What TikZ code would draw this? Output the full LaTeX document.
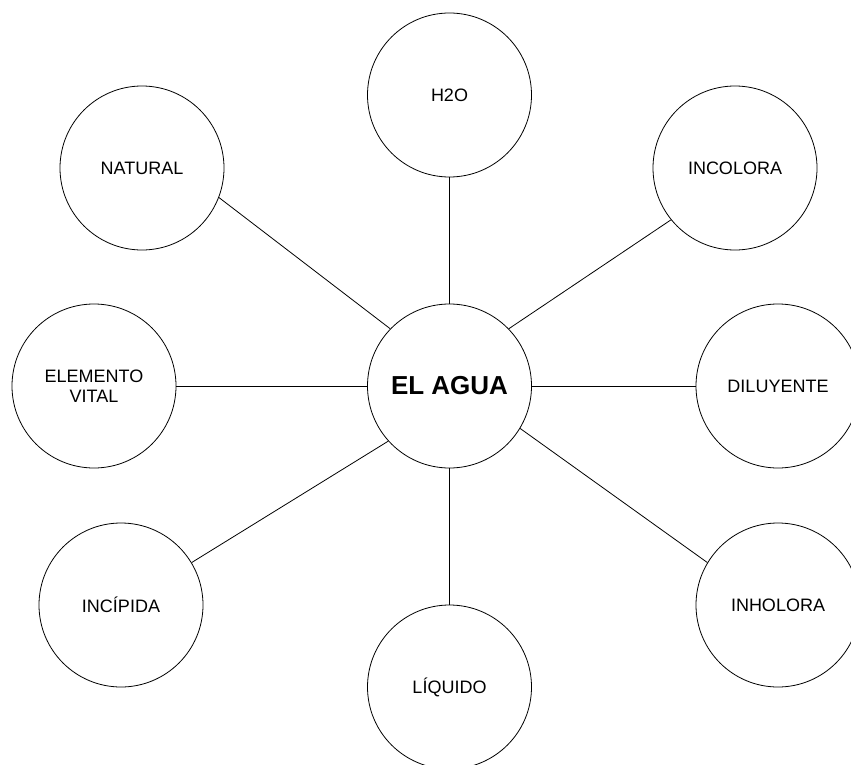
\documentclass[tikz,border=0pt]{standalone}
\usepackage{fontspec}
\setmainfont{Liberation Sans}
\begin{document}
\begin{tikzpicture}[x=1pt,y=-1pt,
  bubble/.style={circle,draw=black,line width=0.8pt,minimum size=164pt,inner sep=0pt,align=center,
    font=\fontsize{18}{20}\selectfont},
  hub/.style={bubble,font=\fontsize{26}{30}\selectfont\bfseries},
  link/.style={draw=black,line width=0.8pt}]
\useasboundingbox[fill=white] (0,0) rectangle (851,765);
\node[hub] (agua) at (449.5,386) {EL AGUA};
\node[bubble] (h2o) at (449.5,95) {H2O};
\node[bubble] (nat) at (142,168) {NATURAL};
\node[bubble] (inc) at (735,168) {INCOLORA};
\node[bubble] (vit) at (94,386) {ELEMENTO\\VITAL};
\node[bubble] (dil) at (778,386) {DILUYENTE};
\node[bubble] (cip) at (121,605) {INCÍPIDA};
\node[bubble] (hol) at (778,605) {INHOLORA};
\node[bubble] (liq) at (449.5,687) {LÍQUIDO};
\draw[link] (h2o.south) -- (agua.north);
\draw[link] (liq.north) -- (agua.south);
\draw[link] (vit.east) -- (agua.west);
\draw[link] (dil.west) -- (agua.east);
\draw[link] (nat.-21) -- (agua.136);
\draw[link] (inc.-141) -- (agua.44);
\draw[link] (cip.31) -- (agua.222);
\draw[link] (hol.149) -- (agua.-31);
\end{tikzpicture}
\end{document}
